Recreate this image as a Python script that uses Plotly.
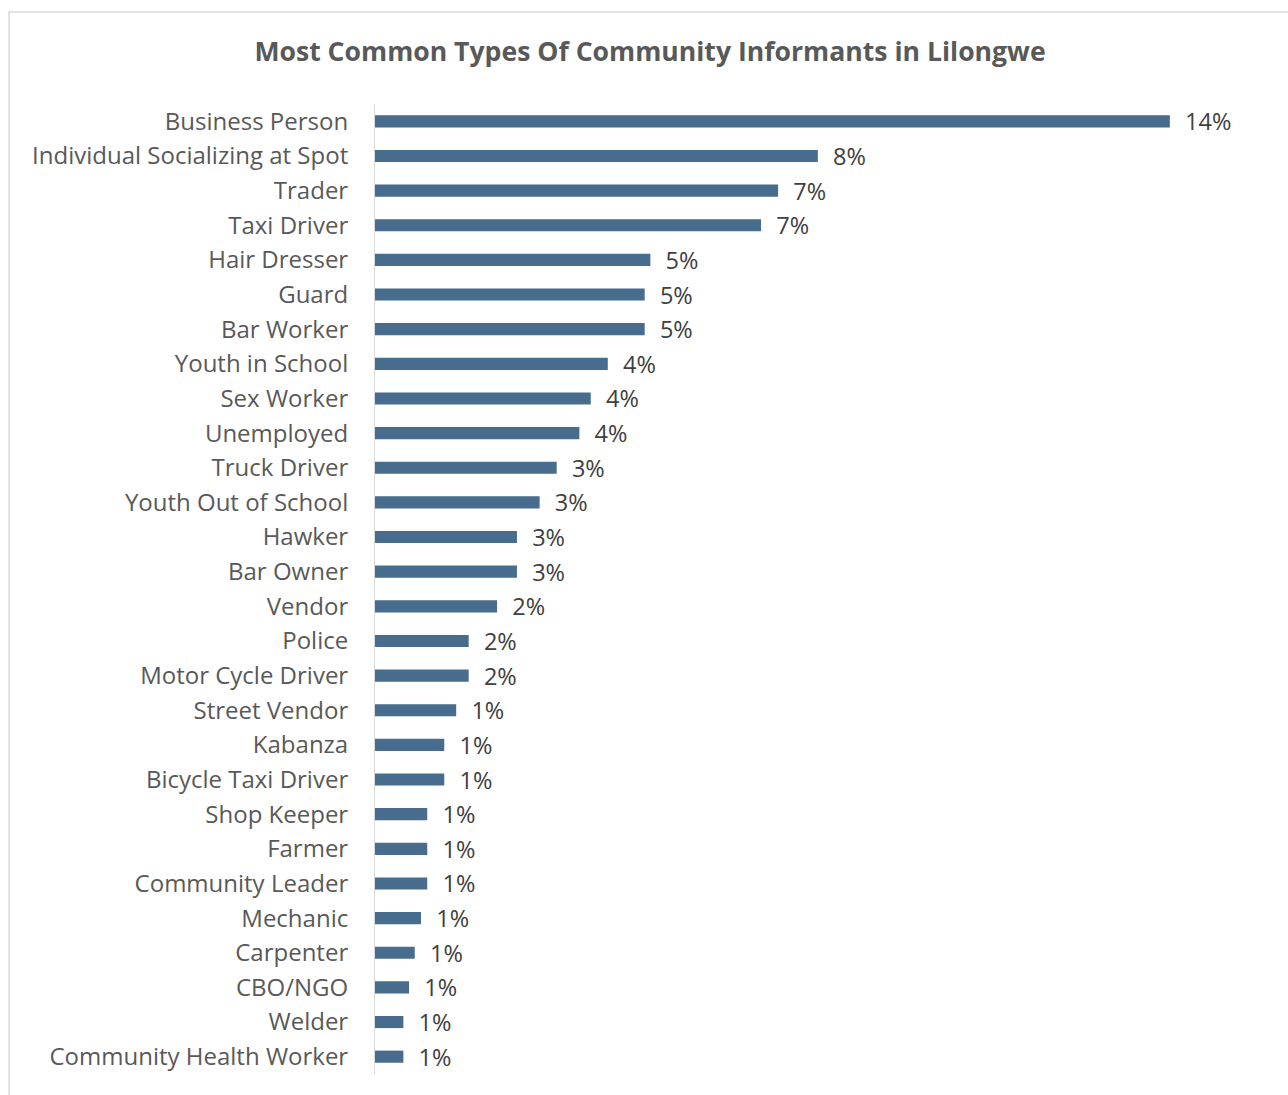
import plotly.graph_objects as go

categories = [
    "Business Person", "Individual Socializing at Spot", "Trader", "Taxi Driver",
    "Hair Dresser", "Guard", "Bar Worker", "Youth in School", "Sex Worker",
    "Unemployed", "Truck Driver", "Youth Out of School", "Hawker", "Bar Owner",
    "Vendor", "Police", "Motor Cycle Driver", "Street Vendor", "Kabanza",
    "Bicycle Taxi Driver", "Shop Keeper", "Farmer", "Community Leader",
    "Mechanic", "Carpenter", "CBO/NGO", "Welder", "Community Health Worker",
]
values = [
    0.140, 0.078, 0.071, 0.068, 0.0485, 0.0475, 0.0475, 0.041, 0.038,
    0.036, 0.032, 0.029, 0.025, 0.025, 0.0215, 0.0165, 0.0165, 0.0143,
    0.0122, 0.0122, 0.0092, 0.0092, 0.0092, 0.0081, 0.0070, 0.0060,
    0.0050, 0.0050,
]
labels = [
    "14%", "8%", "7%", "7%", "5%", "5%", "5%", "4%", "4%", "4%", "3%", "3%",
    "3%", "3%", "2%", "2%", "2%", "1%", "1%", "1%", "1%", "1%", "1%", "1%",
    "1%", "1%", "1%", "1%",
]

FONT = "Open Sans"

fig = go.Figure(go.Bar(
    x=values,
    y=categories,
    orientation="h",
    marker=dict(color="#476C8E", line=dict(width=0)),
    width=0.35,
    text=labels,
    texttemplate="\u00a0\u00a0%{text}",
    textposition="outside",
    constraintext="none",
    cliponaxis=False,
    textfont=dict(family=FONT, size=23.5, color="#404040"),
    hoverinfo="skip",
))

fig.update_layout(
    width=1288,
    height=1095,
    margin=dict(l=375, r=33, t=104, b=21),
    paper_bgcolor="white",
    plot_bgcolor="white",
    showlegend=False,
    title=dict(
        text="<b>Most Common Types Of Community Informants in Lilongwe</b>",
        x=650 / 1288, xanchor="center",
        y=1 - 52 / 1095, yanchor="middle",
        font=dict(family=FONT, size=26.6, color="#595959"),
    ),
    xaxis=dict(
        range=[0, 0.155],
        visible=False,
        showgrid=False,
        zeroline=False,
    ),
    yaxis=dict(
        autorange="reversed",
        showgrid=False,
        zeroline=False,
        showline=True,
        linecolor="#D9D9D9",
        linewidth=1,
        ticks="",
        ticklabelstandoff=21,
        tickfont=dict(family=FONT, size=24, color="#595959"),
    ),
    shapes=[
        dict(
            type="rect", xref="paper", yref="paper",
            x0=(9 - 375) / 880, x1=1.05,
            y0=-0.05, y1=(1074 - 12) / 970,
            line=dict(color="#D9D9D9", width=1.5),
            fillcolor="rgba(0,0,0,0)",
            layer="below",
        )
    ],
)

fig.write_html("out.html")
